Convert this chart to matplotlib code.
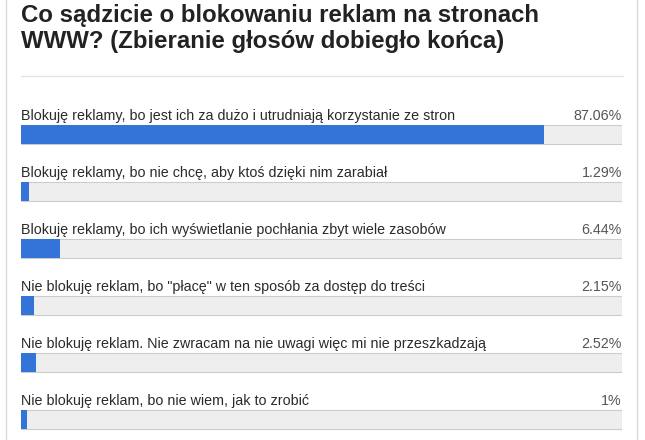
import matplotlib.pyplot as plt
from matplotlib.lines import Line2D

W, H = 645, 440

title = "Co sądzicie o blokowaniu reklam na stronach\nWWW? (Zbieranie głosów dobiegło końca)"
answers = [
    "Blokuję reklamy, bo jest ich za dużo i utrudniają korzystanie ze stron",
    "Blokuję reklamy, bo nie chcę, aby ktoś dzięki nim zarabiał",
    "Blokuję reklamy, bo ich wyświetlanie pochłania zbyt wiele zasobów",
    "Nie blokuję reklam, bo \"płacę\" w ten sposób za dostęp do treści",
    "Nie blokuję reklam. Nie zwracam na nie uwagi więc mi nie przeszkadzają",
    "Nie blokuję reklam, bo nie wiem, jak to zrobić",
]
percents = [87.06, 1.29, 6.44, 2.15, 2.52, 1.0]
percent_labels = ["87.06%", "1.29%", "6.44%", "2.15%", "2.52%", "1%"]

plt.rcParams['font.family'] = ['Liberation Sans', 'DejaVu Sans']


def fx(px):
    return px / W


def fy(py):
    return 1 - py / H


fig = plt.figure(figsize=(W / 100, H / 100), dpi=100)
fig.patch.set_facecolor("white")

# frame lines on the left and right
fig.add_artist(Line2D([fx(6), fx(6)], [0, 1], color="#d9d9d9", lw=1))
fig.add_artist(Line2D([fx(637), fx(637)], [0, 1], color="#d9d9d9", lw=1))

# title, two lines
for k, line in enumerate(title.split("\n")):
    fig.text(fx(21), fy(22 + 26 * k), line, fontsize=17.3, fontweight="bold",
             color="#222222", va="baseline", ha="left")

# divider
fig.add_artist(Line2D([fx(21), fx(623)], [fy(76), fy(76)], color="#e5e5e5", lw=1))

# bars area: each row is 57 px, first bar centre at y=134.5
row = 57
top = 134.5 - row / 2
ax = fig.add_axes([fx(21), 0, fx(622) - fx(21), fy(top)])
n = len(percents)
ax.set_xlim(0, 100)
ax.set_ylim((H - top) / row - 0.5, -0.5)
ax.axis("off")

ypos = list(range(n))
bh = 19 / row
ax.barh(ypos, [100] * n, height=bh, color="#eeeeee", edgecolor="#cccccc", linewidth=0.8)
ax.barh(ypos, percents, height=bh, color="#3474d9", edgecolor="none")

for i, (lab, pl) in enumerate(zip(answers, percent_labels)):
    yb = i - bh / 2 - 5 / row
    ax.text(0, yb, lab, fontsize=10.25, color="#2a2a2a", va="baseline", ha="left")
    ax.text(100, yb, pl, fontsize=10.25, color="#555555", va="baseline", ha="right")

fig.savefig("out.png", dpi=100, facecolor="white")
